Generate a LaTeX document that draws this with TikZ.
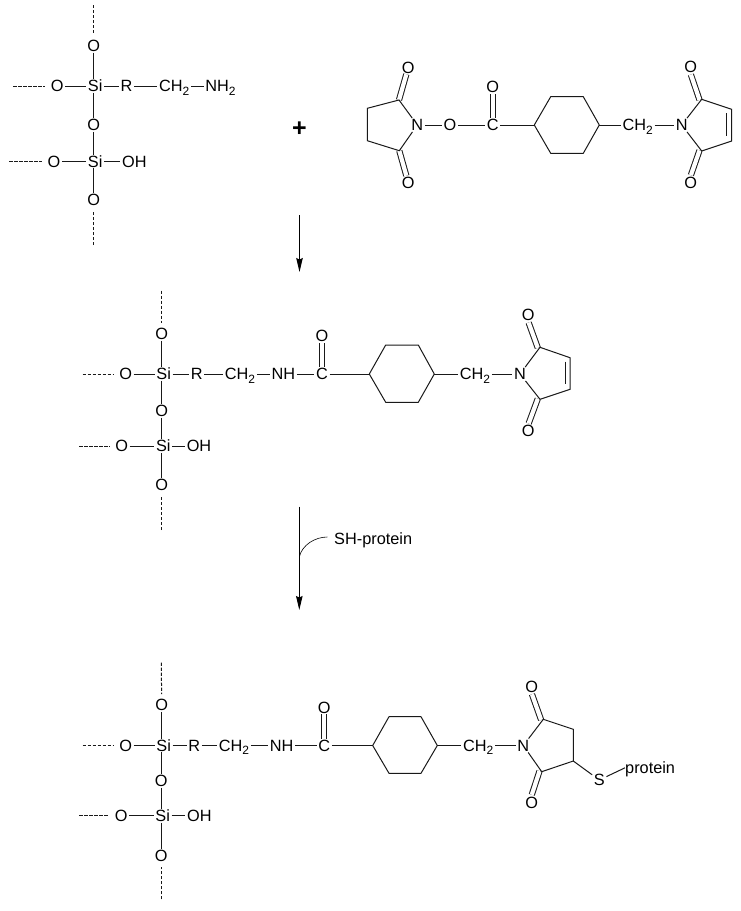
\documentclass[tikz,border=0pt]{standalone}
\usepackage{xcolor}
\usepackage{fontspec}
\usepackage{tikz}
\usetikzlibrary{arrows.meta}
\setmainfont{Liberation Sans}
\newcommand{\subtwo}{\raisebox{-3.5pt}{\fontsize{12}{13}\selectfont 2}}

\begin{document}
\begin{tikzpicture}[x=1pt,y=-1pt]
			\tikzstyle{atom} = [inner xsep=1.5pt, inner ysep=1pt, text height=11.5pt, text depth=0pt, font=\fontsize{16.3}{17}\selectfont]
			\tikzstyle{label} = [inner sep=0pt, text height=11.5pt, text depth=0pt, font=\fontsize{16.3}{17}\selectfont]
			\tikzstyle{bond} = [line width=1pt, black!90]
			\tikzstyle{dbl} = [bond, double, double distance=4.2pt]
			\tikzstyle{dashbond} = [line width=1pt, black!90, dash pattern=on 3.2pt off 1.8pt, shorten >=4pt]
			\tikzset{edge/.style = {line width=1pt, -{Stealth[length=14pt,width=6.5pt,inset=1.5pt]}}}
			\useasboundingbox (0,0) rectangle (740,911);

			% silica, top
			\node[atom](o1) at (93.7,45.7) {O};
			\node[atom](o2) at (57.3,86) {O};
			\node[atom](si1) at (95.2,86) {Si};
			\node[atom](r1) at (126.5,86) {R};
			\node[atom](ch1) at (174.3,86) {CH\subtwo};
			\node[atom](amine) at (220.5,86) {NH\subtwo};
			\node[atom](o3) at (93.7,125) {O};
			\node[atom](si2) at (95.2,161.5) {Si};
			\node[atom](o4) at (54,161.5) {O};
			\node[atom](oh1) at (134.3,161.5) {OH};
			\node[atom](o5) at (93.7,200) {O};
			\coordinate (end1) at (93.7,5);
			\coordinate (end2) at (13.3,86);
			\coordinate (end3) at (9.3,161.5);
			\coordinate (end4) at (93.7,245);
			\draw[dashbond](end1) to (o1);
			\draw[dashbond](end2) to (o2);
			\draw[dashbond](end3) to (o4);
			\draw[dashbond](end4) to (o5);
			\draw[bond](o1) to (o1 |- si1.north);
			\draw[bond](o2) to (si1);
			\draw[bond](si1) to (r1);
			\draw[bond](r1) to (ch1);
			\draw[bond](ch1) to (amine);
			\draw[bond](o3 |- si1.south) to (o3);
			\draw[bond](o3) to (o3 |- si2.north);
			\draw[bond](o4) to (si2);
			\draw[bond](si2) to (oh1);
			\draw[bond](o5 |- si2.south) to (o5);

			\node[inner sep=0pt,font=\fontsize{25}{26}\selectfont\bfseries](plus) at (299.5,129) {+};

			% NHS ester
			\coordinate (ring1) at (399,100);
			\coordinate (ring2) at (367.3,108.3);
			\coordinate (ring3) at (367.3,140.7);
			\coordinate (ring4) at (399.3,150.7);
			\node[atom](n1) at (417.3,125) {N};
			\node[atom](o6) at (408.3,67.3) {O};
			\node[atom](o7) at (408.3,182.7) {O};
			\node[atom](o8) at (450,125) {O};
			\node[atom](c1) at (492.7,125) {C};
			\node[atom](o9) at (492.7,86.7) {O};
			\coordinate (hexa1) at (534.3,125);
			\coordinate (hexa2) at (550.7,96.7);
			\coordinate (hexa3) at (583.3,96.7);
			\coordinate (hexa4) at (599.3,125);
			\coordinate (hexa5) at (583.3,153.3);
			\coordinate (hexa6) at (550.7,153.3);
			\node[atom](ch2) at (637.7,125) {CH\subtwo};
			\node[atom](n2) at (681.7,125) {N};
			\coordinate (ring5) at (701.7,99.3);
			\coordinate (ring6) at (731.7,109.3);
			\coordinate (ring7) at (731.7,141);
			\coordinate (ring8) at (701.7,151);
			\node[atom](o10) at (690.7,67) {O};
			\node[atom](o11) at (690.7,182.7) {O};
			\draw[dbl](ring1) to (o6);
			\draw[dbl](ring4) to (o7);
			\draw[dbl,transform canvas={shift={(-2.2,0.6)}}](ring5) to (o10);
			\draw[dbl,transform canvas={shift={(-2.2,-0.6)}}](ring8) to (o11);
			\draw[bond](n1) to (ring1) -- (ring2) -- (ring3) -- (ring4) to (n1);
			\draw[bond](n1) to (o8);
			\draw[bond](o8) to (c1);
			\draw[dbl](c1) to (o9);
			\draw[bond](c1) to (hexa1);
			\draw[bond,line join=round](hexa1) -- (hexa2) -- (hexa3) -- (hexa4) -- (hexa5) -- (hexa6) -- cycle;
			\draw[bond](hexa4) to (ch2);
			\draw[bond](ch2) to (n2);
			\draw[bond](n2) to (ring5) -- (ring6) -- (ring7) -- (ring8) to (n2);
			\draw[bond,shorten <=4pt,shorten >=5pt,transform canvas={shift={(-5,0)}}](ring6) to (ring7);

			\coordinate (start1) at (299.5,215);
			\coordinate (tip1) at (299.5,272);
			\draw[edge](start1) to (tip1);

			% silica, linker
			\node[atom](o12) at (161.7,334) {O};
			\node[atom](o13) at (125.7,374) {O};
			\node[atom](si3) at (163.7,374) {Si};
			\node[atom](r2) at (196.7,374) {R};
			\node[atom](ch3) at (240,374) {CH\subtwo};
			\node[atom](nh1) at (283.3,374) {NH};
			\node[atom](c2) at (322,374) {C};
			\node[atom](o14) at (322,335.7) {O};
			\node[atom](o15) at (161.7,410.7) {O};
			\node[atom](si4) at (163.3,446) {Si};
			\node[atom](o16) at (121.7,446) {O};
			\node[atom](oh2) at (199,446) {OH};
			\node[atom](o17) at (161.7,485) {O};
			\coordinate (end5) at (161.7,290.7);
			\coordinate (end6) at (82.7,374);
			\coordinate (end7) at (79.3,446);
			\coordinate (end8) at (161.7,530);
			\draw[dashbond](end5) to (o12);
			\draw[dashbond](end6) to (o13);
			\draw[dashbond](end7) to (o16);
			\draw[dashbond](end8) to (o17);
			\draw[bond](o12) to (o12 |- si3.north);
			\draw[bond](o13) to (si3);
			\draw[bond](si3) to (r2);
			\draw[bond](r2) to (ch3);
			\draw[bond](ch3) to (nh1);
			\draw[bond](nh1) to (c2);
			\draw[dbl](c2) to (o14);
			\draw[bond](o15 |- si3.south) to (o15);
			\draw[bond](o15) to (o15 |- si4.north);
			\draw[bond](o16) to (si4);
			\draw[bond](si4) to (oh2);
			\draw[bond](o17 |- si4.south) to (o17);
			\coordinate (hexb1) at (369.3,374);
			\coordinate (hexb2) at (385.7,345);
			\coordinate (hexb3) at (418.3,345);
			\coordinate (hexb4) at (434.3,374);
			\coordinate (hexb5) at (418.3,402.3);
			\coordinate (hexb6) at (385.7,402.3);
			\node[atom](ch4) at (475,374) {CH\subtwo};
			\node[atom](n3) at (520,374) {N};
			\coordinate (ring9) at (540,347.3);
			\coordinate (ring10) at (570,357.7);
			\coordinate (ring11) at (570,389.3);
			\coordinate (ring12) at (540,399.3);
			\node[atom](o18) at (528.3,315) {O};
			\node[atom](o19) at (528.3,431) {O};
			\draw[dbl,transform canvas={shift={(-2.2,0.6)}}](ring9) to (o18);
			\draw[dbl,transform canvas={shift={(-2.2,-0.6)}}](ring12) to (o19);
			\draw[bond](c2) to (hexb1);
			\draw[bond,line join=round](hexb1) -- (hexb2) -- (hexb3) -- (hexb4) -- (hexb5) -- (hexb6) -- cycle;
			\draw[bond](hexb4) to (ch4);
			\draw[bond](ch4) to (n3);
			\draw[bond](n3) to (ring9) -- (ring10) -- (ring11) -- (ring12) to (n3);
			\draw[bond,shorten <=4pt,shorten >=5pt,transform canvas={shift={(-5,0)}}](ring10) to (ring11);

			\coordinate (start2) at (299.3,506.7);
			\coordinate (tip2) at (299.3,610);
			\coordinate (branch1) at (299.3,557);
			\coordinate (branch2) at (327.3,537);
			\node[label,anchor=west](thiol) at (334,538.8) {SH-protein};
			\draw[edge](start2) to (tip2);
			\draw[line width=0.6pt](branch1) .. controls (302,545) and (315,537) .. (branch2);

			% silica, conjugate
			\node[atom](o20) at (161.7,705) {O};
			\node[atom](o21) at (125.7,745.5) {O};
			\node[atom](si5) at (163.7,745.5) {Si};
			\node[atom](r3) at (194.3,745.5) {R};
			\node[atom](ch5) at (234,745.5) {CH\subtwo};
			\node[atom](nh2) at (281.7,745.5) {NH};
			\node[atom](c3) at (324.3,745.5) {C};
			\node[atom](o22) at (324.3,707.3) {O};
			\node[atom](o23) at (161.3,780.7) {O};
			\node[atom](si6) at (162.7,815.7) {Si};
			\node[atom](o24) at (121.3,815.7) {O};
			\node[atom](oh3) at (199.3,815.7) {OH};
			\node[atom](o25) at (161.3,856) {O};
			\coordinate (end9) at (161.3,662.7);
			\coordinate (end10) at (82.7,745.5);
			\coordinate (end11) at (79.3,815.7);
			\coordinate (end12) at (161.3,899.3);
			\draw[dashbond](end9) to (o20);
			\draw[dashbond](end10) to (o21);
			\draw[dashbond](end11) to (o24);
			\draw[dashbond](end12) to (o25);
			\draw[bond](o20) to (o20 |- si5.north);
			\draw[bond](o21) to (si5);
			\draw[bond](si5) to (r3);
			\draw[bond](r3) to (ch5);
			\draw[bond](ch5) to (nh2);
			\draw[bond](nh2) to (c3);
			\draw[dbl](c3) to (o22);
			\draw[bond](o23 |- si5.south) to (o23);
			\draw[bond](o23) to (o23 |- si6.north);
			\draw[bond](o24) to (si6);
			\draw[bond](si6) to (oh3);
			\draw[bond](o25 |- si6.south) to (o25);
			\coordinate (hexc1) at (372.7,745.5);
			\coordinate (hexc2) at (389,716.7);
			\coordinate (hexc3) at (421,716.7);
			\coordinate (hexc4) at (437.3,745.5);
			\coordinate (hexc5) at (421,773.3);
			\coordinate (hexc6) at (389,773.3);
			\node[atom](ch6) at (478.3,745.5) {CH\subtwo};
			\node[atom](n4) at (523.3,745.5) {N};
			\coordinate (ring13) at (543.3,719.3);
			\coordinate (ring14) at (573.3,729.3);
			\coordinate (ring15) at (573.3,761);
			\coordinate (ring16) at (541.7,771.7);
			\node[atom](o26) at (531.7,686.7) {O};
			\node[atom](o27) at (531.7,802.3) {O};
			\node[atom](s1) at (599.3,780) {S};
			\node[label,anchor=west](protein) at (625,767.8) {protein};
			\draw[dbl,transform canvas={shift={(-2.2,0.6)}}](ring13) to (o26);
			\draw[dbl,transform canvas={shift={(-2.2,-0.6)}}](ring16) to (o27);
			\draw[bond](c3) to (hexc1);
			\draw[bond,line join=round](hexc1) -- (hexc2) -- (hexc3) -- (hexc4) -- (hexc5) -- (hexc6) -- cycle;
			\draw[bond](hexc4) to (ch6);
			\draw[bond](ch6) to (n4);
			\draw[bond](n4) to (ring13) -- (ring14) -- (ring15) -- (ring16) to (n4);
			\draw[bond](ring15) to (s1);
			\draw[bond](s1) to (protein.west);
\end{tikzpicture}
\end{document}
